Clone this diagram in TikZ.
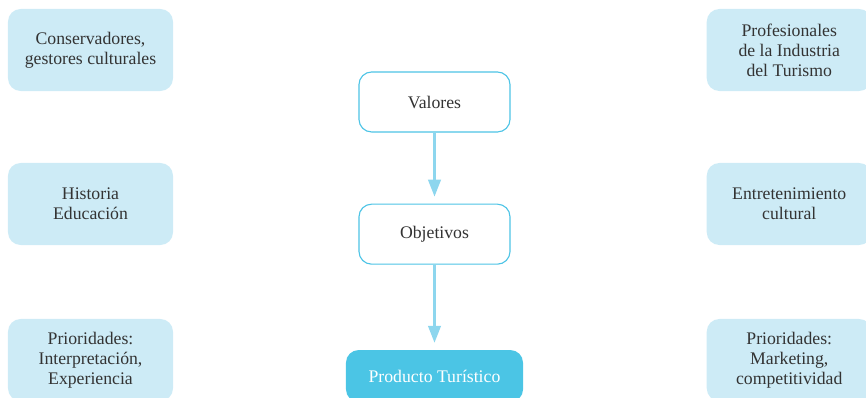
\documentclass[tikz,border=0pt]{standalone}
\usepackage{fontspec}
\setmainfont{Liberation Serif}
\usetikzlibrary{
    arrows.meta,
    positioning
}
\definecolor{boxblue}{HTML}{CDEBF6}
\definecolor{lineblue}{HTML}{4DC4E6}
\definecolor{arrowblue}{HTML}{8DD6EE}
\definecolor{prodblue}{HTML}{4BC5E5}
\definecolor{textgray}{HTML}{333333}

\begin{document}
\begin{tikzpicture}[
    x=0.025cm, y=-0.025cm,
    % Soft side boxes
    actor/.style={
        rounded corners=9pt,
        fill=boxblue,
        minimum width=4.125cm,
        minimum height=2.05cm,
        align=center,
        font=\fontsize{12.6}{14.3}\selectfont,
        text=textgray
    },
    stage/.style={
        rounded corners=9pt,
        draw=lineblue,
        line width=0.8pt,
        fill=white,
        minimum width=3.775cm,
        minimum height=1.5cm,
        font=\fontsize{12.6}{14.3}\selectfont,
        text=textgray
    },
    result/.style={
        rounded corners=9pt,
        fill=prodblue,
        text=white,
        minimum width=4.425cm,
        minimum height=1.3cm,
        font=\fontsize{12.6}{14.3}\selectfont
    },
    flow/.style={
        -{Triangle[length=12pt,width=9pt]},
        line width=1.5pt,
        arrowblue,
        shorten >=5pt
    }
]
    % Page frame
    \clip (0,0) rectangle (866,398);

    % Left column
    \node[actor] (cons) at (90.5,50) {Conservadores,\\gestores culturales};
    \node[actor] (hist) at (90.5,204) {Historia\\Educación};
    \node[actor] (prio-int) at (90.5,360) {Prioridades:\\Interpretación,\\Experiencia};

    % Right column
    \node[actor, right=13.325cm of cons] (prof) {Profesionales\\de la Industria\\del Turismo};
    \node[actor, right=13.325cm of hist] (entr) {Entretenimiento\\cultural};
    \node[actor, right=13.325cm of prio-int] (prio-mkt) {Prioridades:\\Marketing,\\competitividad};

    % Central chain
    \node[stage] (valores) at (434.5,102) {Valores};
    \node[stage, below=1.775cm of valores] (objetivos) {Objetivos};
    \node[result, below=2.125cm of objetivos] (producto) {Producto Turístico};

    \draw[flow] (valores) -- (objetivos);
    \draw[flow] (objetivos) -- (producto);
\end{tikzpicture}
\end{document}
